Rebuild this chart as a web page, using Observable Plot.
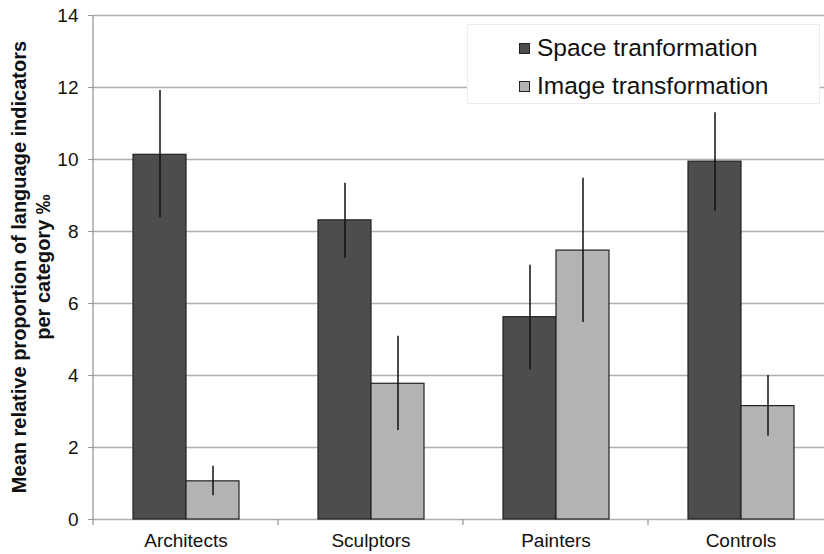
<!DOCTYPE html>
<html><head><meta charset="utf-8">
<script src="https://cdn.jsdelivr.net/npm/d3@7"></script>
<script src="https://cdn.jsdelivr.net/npm/@observablehq/plot@0.6"></script>
<style>
html,body{margin:0;padding:0;background:#fff;overflow:hidden;}
#wrap{position:relative;width:824px;height:554px;overflow:hidden;background:#fff;}
#legend{position:absolute;left:467px;top:24px;width:353px;height:80px;background:#fff;border:1px solid #ececec;box-sizing:border-box;font-family:"Liberation Sans",Arial,sans-serif;font-size:24.5px;color:#111;}
.item{position:absolute;left:51px;display:flex;align-items:center;white-space:nowrap;}
.sw{width:9px;height:9px;border:1px solid #222;margin-right:7px;}
</style></head><body><div id="wrap"><div id="chart"></div><div id="legend"></div></div>
<script>
const categories = ["Architects", "Sculptors", "Painters", "Controls"];
const seriesNames = ["Space tranformation", "Image transformation"];
const spaceMean = [10.13, 8.31, 5.62, 9.94];
const spaceLow  = [8.38, 7.26, 4.16, 8.56];
const spaceHigh = [11.92, 9.34, 7.06, 11.30];
const imageMean = [1.06, 3.77, 7.47, 3.15];
const imageLow  = [0.66, 2.47, 5.47, 2.31];
const imageHigh = [1.48, 5.09, 9.48, 4.00];
const yTicks = [0, 2, 4, 6, 8, 10, 12, 14];
const seriesColors = ["#4d4d4d", "#b3b3b3"];
const yTitle = ["Mean relative proportion of language indicators", "per category \u2030"];

const rows = [];
categories.forEach((c, i) => {
  rows.push({category: c, series: seriesNames[0], value: spaceMean[i], low: spaceLow[i], high: spaceHigh[i]});
  rows.push({category: c, series: seriesNames[1], value: imageMean[i], low: imageLow[i], high: imageHigh[i]});
});

const plot = Plot.plot({
  width: 824, height: 554,
  marginLeft: 93, marginRight: -9, marginTop: 15, marginBottom: 35,
  style: {fontFamily: "'Liberation Sans', Arial, sans-serif", fontSize: "19px", background: "transparent", color: "#111"},
  fx: {domain: categories, padding: 0, label: null, axis: "bottom", tickSize: 0, tickPadding: 14},
  x: {domain: seriesNames, paddingInner: 0, paddingOuter: 0.73, axis: null},
  y: {domain: [0, 14], ticks: yTicks, tickSize: 5, tickPadding: 10, label: null},
  color: {domain: seriesNames, range: seriesColors},
  marks: [
    Plot.ruleY(yTicks, {stroke: "#b0b0b0", strokeWidth: 1.6}),
    Plot.barY(rows, {fx: "category", x: "series", y: "value", fill: "series", stroke: "#222", strokeWidth: 1.2}),
    Plot.ruleX(rows, {fx: "category", x: "series", y1: "low", y2: "high", stroke: "#111", strokeWidth: 1.5})
  ]
});
document.getElementById("chart").appendChild(plot);

const svg = d3.select(plot);
svg.selectAll("[aria-label^='y-axis'] line, [aria-label^='y-axis'] path, [aria-label='y-axis tick']").attr("stroke", "#999");
const fxs = plot.scale("fx"), ys = plot.scale("y");
const g = svg.append("g").attr("stroke", "#999").attr("stroke-width", 1.3);
g.append("line").attr("x1", fxs.range[0]).attr("x2", fxs.range[0]).attr("y1", ys.apply(0)).attr("y2", ys.apply(14));
categories.forEach(c => {
  const x = fxs.apply(c);
  g.append("line").attr("x1", x).attr("x2", x).attr("y1", ys.apply(0)).attr("y2", ys.apply(0) + 6);
});
const cy = (ys.apply(0) + ys.apply(14)) / 2;
yTitle.forEach((t, i) => {
  svg.append("text").attr("transform", `translate(${19 + i * 24},${cy}) rotate(-90)`)
    .attr("text-anchor", "middle").attr("dy", "0.35em")
    .attr("font-weight", "bold").attr("font-size", 20).attr("fill", "#111").text(t);
});

const legend = document.getElementById("legend");
seriesNames.forEach((s, i) => {
  const it = document.createElement("div");
  it.className = "item";
  it.style.top = (9 + i * 38) + "px";
  it.innerHTML = `<div class="sw" style="background:${seriesColors[i]}"></div><span>${s}</span>`;
  legend.appendChild(it);
});
</script></body></html>
